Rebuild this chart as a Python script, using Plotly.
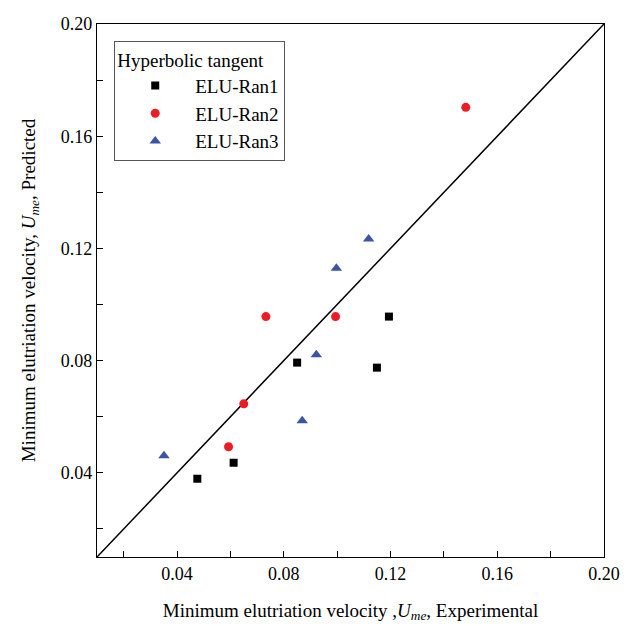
import plotly.graph_objects as go

ran1_x = [0.0476, 0.0612, 0.0850, 0.1149, 0.1194]
ran1_y = [0.0379, 0.0436, 0.0793, 0.0775, 0.0957]
ran2_x = [0.0593, 0.0650, 0.0733, 0.0994, 0.1482]
ran2_y = [0.0493, 0.0646, 0.0957, 0.0957, 0.1703]
ran3_x = [0.0351, 0.0869, 0.0922, 0.0997, 0.1118]
ran3_y = [0.0461, 0.0586, 0.0821, 0.1129, 0.1234]
diag = [0.01, 0.20]
tick_vals = [0.04, 0.08, 0.12, 0.16, 0.20]
tick_text = ["0.04", "0.08", "0.12", "0.16", "0.20"]

FONT = "Liberation Serif"
SUB = "<i>U<sub>me</sub></i>"

fig = go.Figure()
fig.add_trace(go.Scatter(x=diag, y=diag, mode="lines", line=dict(color="black", width=1.5),
                         showlegend=False, hoverinfo="skip"))
fig.add_trace(go.Scatter(x=ran1_x, y=ran1_y, mode="markers", name="ELU-Ran1",
                         marker=dict(symbol="square", size=8, color="black")))
fig.add_trace(go.Scatter(x=ran2_x, y=ran2_y, mode="markers", name="ELU-Ran2",
                         marker=dict(symbol="circle", size=9, color="#ee1c25")))
fig.add_trace(go.Scatter(x=ran3_x, y=ran3_y, mode="markers", name="ELU-Ran3",
                         marker=dict(symbol="triangle-up", size=10, color="#3a55a4")))

axis_common = dict(
    range=[0.01, 0.20], showgrid=False, zeroline=False, automargin=False,
    showline=True, linecolor="black", linewidth=1.2, mirror=True,
    ticks="inside", ticklen=6, tickcolor="black", tickwidth=1,
    tickvals=tick_vals, ticktext=tick_text,
    minor=dict(ticks="inside", ticklen=6, tickcolor="black", tickwidth=1, dtick=0.02, tick0=0.0),
    tickfont=dict(family=FONT, size=18, color="black"),
)

fig.update_xaxes(**axis_common,
                 title=dict(text="Minimum elutriation velocity ," + SUB + ", Experimental",
                            font=dict(family=FONT, size=19, color="black"), standoff=20))
fig.update_yaxes(**axis_common,
                 title=dict(text="Minimum elutriation velocity, " + SUB + ", Predicted",
                            font=dict(family=FONT, size=19, color="black"), standoff=20))

fig.update_layout(
    width=634, height=626,
    margin=dict(l=97, r=30, t=24, b=69),
    plot_bgcolor="white", paper_bgcolor="white",
    font=dict(family=FONT, color="black"),
    legend=dict(
        title=dict(text="Hyperbolic tangent", font=dict(family=FONT, size=19, color="black"), side="top"),
        x=0.034, y=0.968, xanchor="left", yanchor="top",
        bordercolor="#555555", borderwidth=1, bgcolor="white",
        font=dict(family=FONT, size=19, color="black"),
        itemwidth=70, tracegroupgap=0,
    ),
)

fig.write_html("out.html")
